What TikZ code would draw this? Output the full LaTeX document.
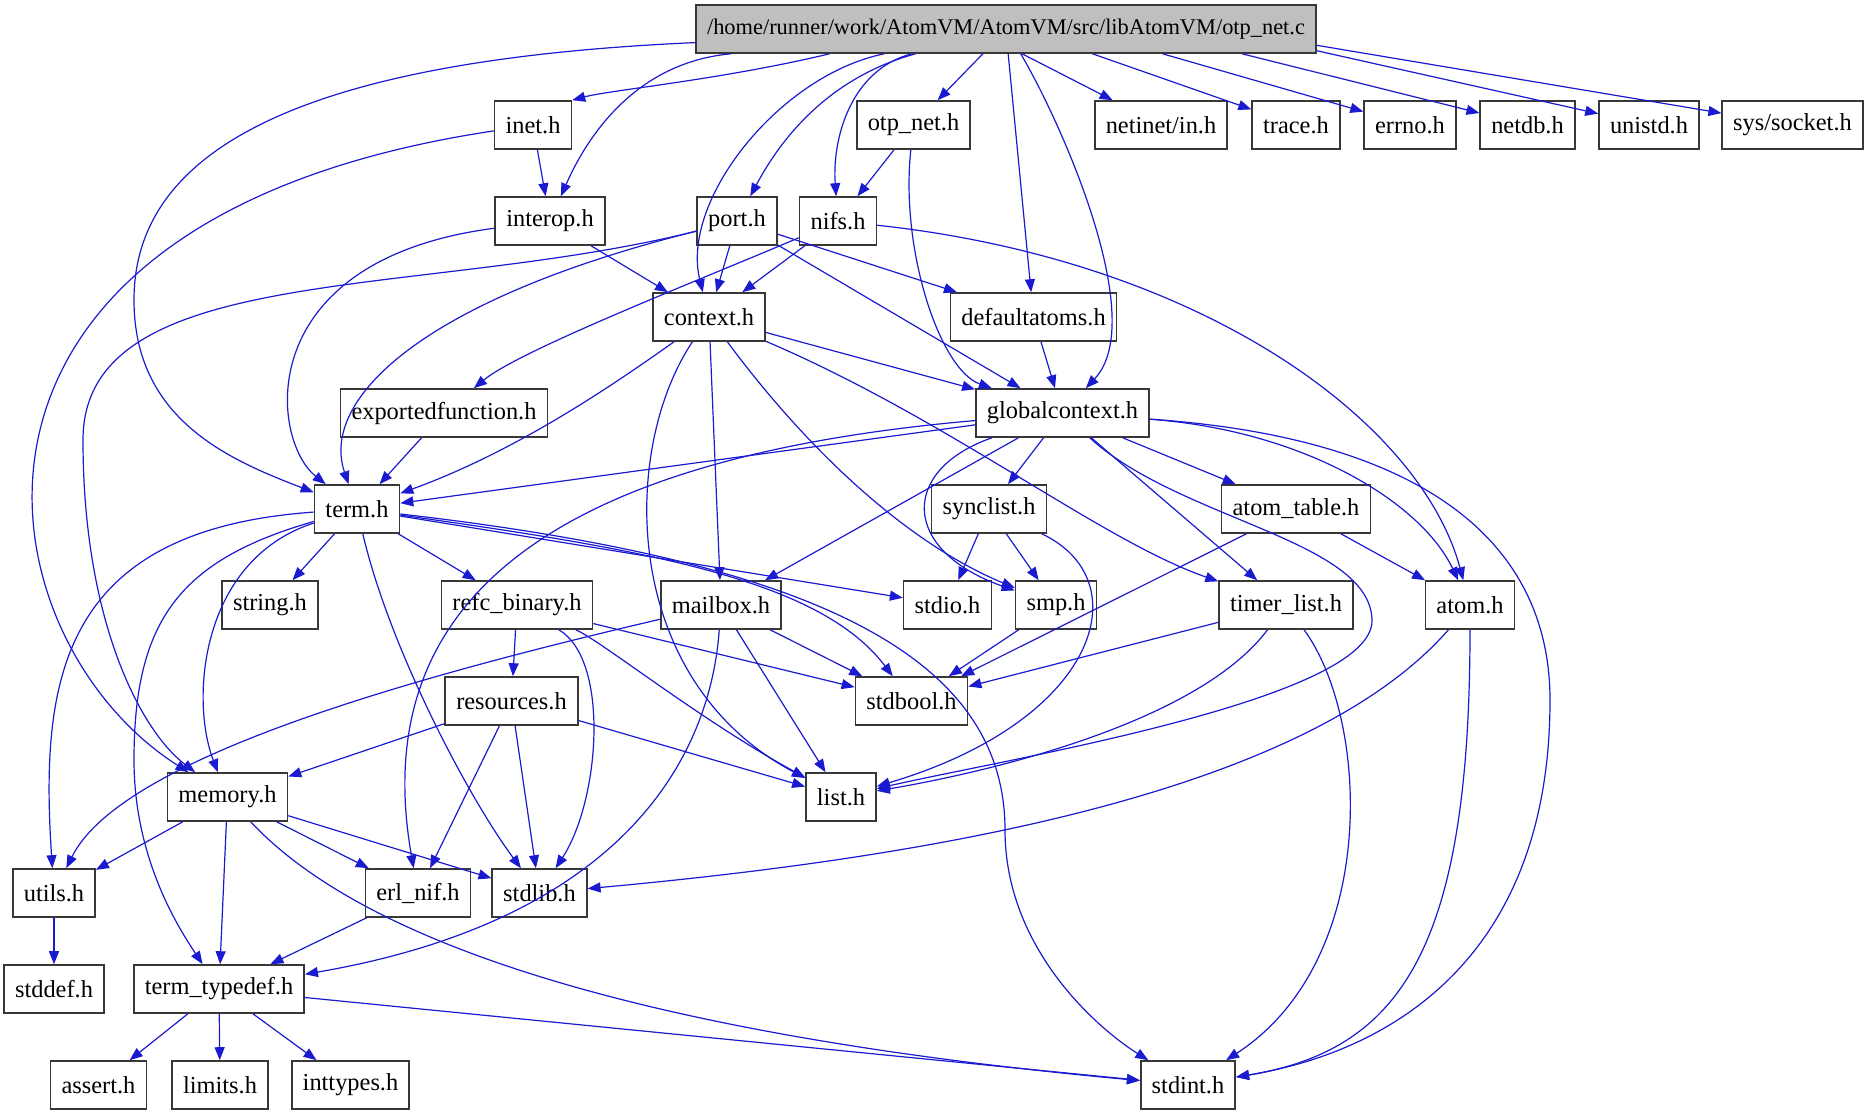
\documentclass[tikz,border=0pt]{standalone}
\usepackage{fontspec}
\setmainfont{Liberation Serif}
\usepackage{xcolor}
\usetikzlibrary{arrows.meta}
\definecolor{edgeblue}{RGB}{26,26,208}
\begin{document}
\begin{tikzpicture}[
  x=0.5pt, y=-0.5pt, >={Triangle[length=6.5pt,width=5pt]},
  hdr/.style={draw=black!78, line width=0.8pt, minimum height=24pt,
              inner xsep=5.5pt, font=\fontsize{12.2}{14}\selectfont},
  src/.style={hdr, fill=black!25, font=\fontsize{11.2}{13}\selectfont},
  dep/.style={->, edgeblue, line width=0.6pt}]
  \path[use as bounding box, fill=white] (0,0) rectangle (1868,1115);

  \node[src] (main) at (1006,29) {/home/runner/work/AtomVM/AtomVM/src/libAtomVM/otp\_net.c};
  \node[hdr] (inet) at (533,125) {inet.h};
  \node[hdr] (otpnet) at (913.5,125) {otp\_net.h};
  \node[hdr] (netinet) at (1161,125) {netinet/in.h};
  \node[hdr] (trace) at (1296,125) {trace.h};
  \node[hdr] (errno) at (1410,125) {errno.h};
  \node[hdr] (netdb) at (1527.5,125) {netdb.h};
  \node[hdr] (unistd) at (1649,125) {unistd.h};
  \node[hdr] (socket) at (1792.5,125) {sys/socket.h};
  \node[hdr] (interop) at (550,221) {interop.h};
  \node[hdr] (port) at (737,221) {port.h};
  \node[hdr] (nifs) at (838,221) {nifs.h};
  \node[hdr] (ctx) at (709,317) {context.h};
  \node[hdr] (defatoms) at (1033.5,317) {defaultatoms.h};
  \node[hdr] (expfun) at (444,413) {exportedfunction.h};
  \node[hdr] (glob) at (1062.5,413) {globalcontext.h};
  \node[hdr] (term) at (357,509) {term.h};
  \node[hdr] (synclist) at (989,509) {synclist.h};
  \node[hdr] (atomtab) at (1296,509) {atom\_table.h};
  \node[hdr] (string) at (270,605) {string.h};
  \node[hdr] (refc) at (517,605) {refc\_binary.h};
  \node[hdr] (mailbox) at (721,605) {mailbox.h};
  \node[hdr] (stdio) at (947.5,605) {stdio.h};
  \node[hdr] (smp) at (1056,605) {smp.h};
  \node[hdr] (timer) at (1286,605) {timer\_list.h};
  \node[hdr] (atom) at (1470,605) {atom.h};
  \node[hdr] (res) at (511.5,701) {resources.h};
  \node[hdr] (stdbool) at (911.5,701) {stdbool.h};
  \node[hdr] (memory) at (227.5,797) {memory.h};
  \node[hdr] (list) at (841,797) {list.h};
  \node[hdr] (utils) at (54,893) {utils.h};
  \node[hdr] (erlnif) at (418,893) {erl\_nif.h};
  \node[hdr] (stdlib) at (539.5,893) {stdlib.h};
  \node[hdr] (stddef) at (54,989) {stddef.h};
  \node[hdr] (typedef) at (219,989) {term\_typedef.h};
  \node[hdr] (assert) at (98.5,1085) {assert.h};
  \node[hdr] (limits) at (220,1085) {limits.h};
  \node[hdr] (inttypes) at (350.5,1085) {inttypes.h};
  \node[hdr] (stdint) at (1188,1085) {stdint.h};

  \draw[dep] (main) .. controls (300,60) and (134,150) .. (134,300) .. controls (134,420) and (230,460) .. (term);
  \draw[dep] (main.-172.6) .. controls (720,80) and (610,90) .. (inet.north east);
  \draw[dep] (main) .. controls (640,62) and (590,130) .. (interop);
  \draw[dep] (main) .. controls (780,75) and (680,200) .. (ctx);
  \draw[dep] (main) .. controls (820,80) and (775,150) .. (port);
  \draw[dep] (main) .. controls (850,70) and (832,140) .. (nifs);
  \draw[dep] (main.-133.8) -- (otpnet);
  \draw[dep] (main.-85) -- (defatoms);
  \draw[dep] (main) .. controls (1060,120) and (1150,320) .. (glob);
  \draw[dep] (main.-57.7) -- (netinet);
  \draw[dep] (main.-16.1) -- (trace);
  \draw[dep] (main.-9.6) -- (errno);
  \draw[dep] (main.-6.4) -- (netdb);
  \draw[dep] (main.-4.6) -- (unistd);
  \draw[dep] (main.-3.9) -- (socket);

  \draw[dep] (inet) -- (interop);
  \draw[dep] (inet) .. controls (-100,220) and (-20,640) .. (memory);
  \draw[dep] (otpnet) -- (nifs);
  \draw[dep] (otpnet) .. controls (900,250) and (940,370) .. (glob);
  \draw[dep] (interop) -- (ctx);
  \draw[dep] (interop) .. controls (250,260) and (270,440) .. (term);
  \draw[dep] (port) -- (ctx);
  \draw[dep] (port) .. controls (420,300) and (320,400) .. (term);
  \draw[dep] (port) .. controls (420,300) and (83,260) .. (83,440) .. controls (83,620) and (140,730) .. (memory);
  \draw[dep] (port) -- (glob);
  \draw[dep] (port) -- (defatoms);
  \draw[dep] (nifs) -- (ctx);
  \draw[dep] (nifs) .. controls (700,280) and (520,350) .. (expfun);
  \draw[dep] (nifs) .. controls (1200,260) and (1420,420) .. (atom);
  \draw[dep] (defatoms) -- (glob);
  \draw[dep] (expfun) -- (term);

  \draw[dep] (ctx) -- (glob);
  \draw[dep] (ctx) .. controls (620,380) and (520,450) .. (term);
  \draw[dep] (ctx) .. controls (620,450) and (620,680) .. (list);
  \draw[dep] (ctx) -- (mailbox);
  \draw[dep] (ctx) .. controls (800,440) and (900,540) .. (smp);
  \draw[dep] (ctx) .. controls (950,420) and (1100,540) .. (timer);

  \draw[dep] (glob) -- (term);
  \draw[dep] (glob) .. controls (520,460) and (370,620) .. (erlnif);
  \draw[dep] (glob) -- (mailbox);
  \draw[dep] (glob) .. controls (900,470) and (900,550) .. (smp);
  \draw[dep] (glob) -- (synclist);
  \draw[dep] (glob) -- (timer);
  \draw[dep] (glob) .. controls (1180,520) and (1370,540) .. (1372,620) .. controls (1374,700) and (1000,760) .. (list);
  \draw[dep] (glob) -- (atomtab);
  \draw[dep] (glob) .. controls (1300,430) and (1420,500) .. (atom);
  \draw[dep] (glob) .. controls (1450,440) and (1550,560) .. (1550,700) .. controls (1550,950) and (1400,1050) .. (stdint);

  \draw[dep] (synclist) -- (stdio);
  \draw[dep] (synclist) -- (smp);
  \draw[dep] (synclist) .. controls (1140,580) and (1100,720) .. (list);
  \draw[dep] (atomtab) -- (atom);
  \draw[dep] (atomtab) -- (stdbool);
  \draw[dep] (timer) -- (stdbool);
  \draw[dep] (timer) .. controls (1200,720) and (1000,770) .. (list);
  \draw[dep] (timer) .. controls (1370,720) and (1380,960) .. (stdint);
  \draw[dep] (atom) .. controls (1470,950) and (1400,1050) .. (stdint);
  \draw[dep] (atom) .. controls (1300,800) and (900,860) .. (stdlib);
  \draw[dep] (smp) -- (stdbool);

  \draw[dep] (term) -- (string);
  \draw[dep] (term) -- (refc);
  \draw[dep] (term) -- (stdio);
  \draw[dep] (term) .. controls (650,550) and (820,580) .. (stdbool);
  \draw[dep] (term) .. controls (800,560) and (1005,650) .. (1005,830) .. controls (1005,950) and (1100,1030) .. (stdint);
  \draw[dep] (term) .. controls (390,650) and (470,800) .. (stdlib);
  \draw[dep] (term) .. controls (60,530) and (40,680) .. (utils);
  \draw[dep] (term) .. controls (200,560) and (190,700) .. (memory);
  \draw[dep] (term) .. controls (180,560) and (134,620) .. (134,760) .. controls (134,860) and (180,930) .. (typedef);

  \draw[dep] (refc) -- (res);
  \draw[dep] (refc) -- (stdbool);
  \draw[dep] (refc) .. controls (600,640) and (700,720) .. (list);
  \draw[dep] (refc) .. controls (610,660) and (600,800) .. (stdlib);
  \draw[dep] (res) -- (memory);
  \draw[dep] (res) -- (erlnif);
  \draw[dep] (res) -- (stdlib);
  \draw[dep] (res) -- (list);
  \draw[dep] (mailbox) .. controls (400,680) and (120,760) .. (utils);
  \draw[dep] (mailbox) .. controls (710,760) and (620,920) .. (typedef);
  \draw[dep] (mailbox) -- (list);
  \draw[dep] (mailbox) -- (stdbool);

  \draw[dep] (memory) -- (utils);
  \draw[dep] (memory) -- (typedef);
  \draw[dep] (memory) -- (erlnif);
  \draw[dep] (memory) -- (stdlib);
  \draw[dep] (memory) .. controls (380,960) and (700,1040) .. (stdint);
  \draw[dep] (erlnif) -- (typedef);
  \draw[dep] (utils) -- (stddef);
  \draw[dep] (typedef) -- (assert);
  \draw[dep] (typedef) -- (limits);
  \draw[dep] (typedef) -- (inttypes);
  \draw[dep] (typedef) -- (stdint);
\end{tikzpicture}
\end{document}
